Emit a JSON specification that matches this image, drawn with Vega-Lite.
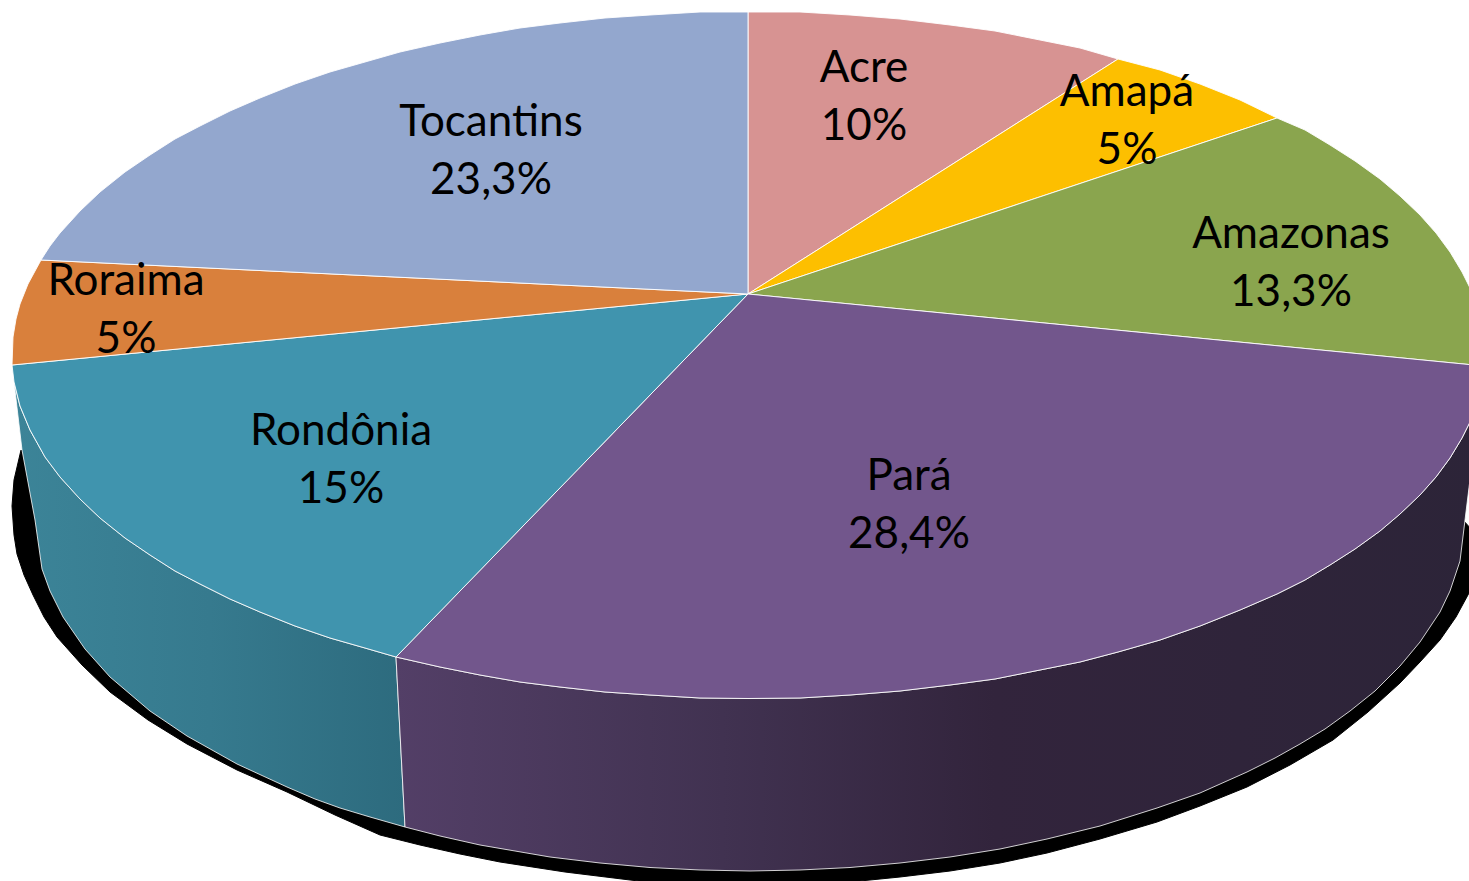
{"$schema":"https://vega.github.io/schema/vega-lite/v6.json","width":1469,"height":881,"padding":0,"autosize":{"type":"none"},"background":"white","config":{"view":{"stroke":null}},
"datasets":{
"shadow":[{"i":0,"x":21,"y":450},{"i":1,"x":14,"y":480},{"i":2,"x":12,"y":506},{"i":3,"x":14,"y":535},{"i":4,"x":17,"y":554},{"i":5,"x":24,"y":575},{"i":6,"x":33,"y":595},{"i":7,"x":44,"y":617},{"i":8,"x":57,"y":637},{"i":9,"x":82,"y":665},{"i":10,"x":110,"y":692},{"i":11,"x":148,"y":720},{"i":12,"x":187,"y":744},{"i":13,"x":237,"y":770},{"i":14,"x":287,"y":792},{"i":15,"x":335,"y":815},{"i":16,"x":380,"y":835},{"i":17,"x":420,"y":845},{"i":18,"x":460,"y":854},{"i":19,"x":500,"y":862},{"i":20,"x":565,"y":872},{"i":21,"x":630,"y":880},{"i":22,"x":665,"y":884},{"i":23,"x":700,"y":886},{"i":24,"x":763,"y":888},{"i":25,"x":810,"y":885},{"i":26,"x":850,"y":882},{"i":27,"x":900,"y":877},{"i":28,"x":950,"y":871},{"i":29,"x":1000,"y":863},{"i":30,"x":1047,"y":853},{"i":31,"x":1100,"y":839},{"i":32,"x":1157,"y":822},{"i":33,"x":1200,"y":806},{"i":34,"x":1247,"y":787},{"i":35,"x":1290,"y":765},{"i":36,"x":1333,"y":740},{"i":37,"x":1368,"y":712},{"i":38,"x":1400,"y":683},{"i":39,"x":1420,"y":662},{"i":40,"x":1440,"y":640},{"i":41,"x":1456,"y":617},{"i":42,"x":1469,"y":593},{"i":43,"x":1490,"y":550},{"i":44,"x":1400,"y":450}],
"rondonia":[{"i":0,"x":396,"y":657},{"i":1,"x":365,"y":648},{"i":2,"x":330,"y":638},{"i":3,"x":295,"y":626},{"i":4,"x":260,"y":612},{"i":5,"x":230,"y":599},{"i":6,"x":200,"y":584},{"i":7,"x":175,"y":571},{"i":8,"x":150,"y":555},{"i":9,"x":125,"y":538},{"i":10,"x":100,"y":518},{"i":11,"x":80,"y":499},{"i":12,"x":60,"y":477},{"i":13,"x":45,"y":457},{"i":14,"x":30,"y":430},{"i":15,"x":20,"y":406},{"i":16,"x":14,"y":382},{"i":17,"x":22,"y":450},{"i":18,"x":35,"y":520},{"i":19,"x":42,"y":569},{"i":20,"x":50,"y":591},{"i":21,"x":63,"y":617},{"i":22,"x":85,"y":649},{"i":23,"x":110,"y":677},{"i":24,"x":150,"y":711},{"i":25,"x":187,"y":736},{"i":26,"x":237,"y":764},{"i":27,"x":287,"y":787},{"i":28,"x":315,"y":799},{"i":29,"x":340,"y":808},{"i":30,"x":370,"y":817},{"i":31,"x":405,"y":827},{"i":32,"x":396,"y":657}],
"para":[{"i":0,"x":396,"y":657},{"i":1,"x":440,"y":667},{"i":2,"x":480,"y":675},{"i":3,"x":520,"y":682},{"i":4,"x":560,"y":687},{"i":5,"x":605,"y":692},{"i":6,"x":650,"y":695},{"i":7,"x":700,"y":698},{"i":8,"x":748,"y":698.5},{"i":9,"x":800,"y":698},{"i":10,"x":850,"y":695},{"i":11,"x":900,"y":691},{"i":12,"x":950,"y":685},{"i":13,"x":995,"y":679},{"i":14,"x":1040,"y":670},{"i":15,"x":1080,"y":662},{"i":16,"x":1118,"y":652},{"i":17,"x":1160,"y":640},{"i":18,"x":1200,"y":626},{"i":19,"x":1240,"y":610},{"i":20,"x":1277,"y":594},{"i":21,"x":1305,"y":580},{"i":22,"x":1330,"y":565},{"i":23,"x":1355,"y":549},{"i":24,"x":1380,"y":531},{"i":25,"x":1400,"y":514},{"i":26,"x":1420,"y":495},{"i":27,"x":1436,"y":477},{"i":28,"x":1450,"y":458},{"i":29,"x":1462,"y":438},{"i":30,"x":1470,"y":422},{"i":31,"x":1478,"y":399},{"i":32,"x":1484,"y":366},{"i":33,"x":1465,"y":520},{"i":34,"x":1460,"y":561},{"i":35,"x":1450,"y":591},{"i":36,"x":1440,"y":612},{"i":37,"x":1420,"y":642},{"i":38,"x":1400,"y":666},{"i":39,"x":1375,"y":691},{"i":40,"x":1350,"y":711},{"i":41,"x":1325,"y":729},{"i":42,"x":1300,"y":744},{"i":43,"x":1275,"y":758},{"i":44,"x":1247,"y":772},{"i":45,"x":1200,"y":793},{"i":46,"x":1157,"y":808},{"i":47,"x":1100,"y":826},{"i":48,"x":1047,"y":839},{"i":49,"x":1000,"y":849},{"i":50,"x":950,"y":857},{"i":51,"x":900,"y":863},{"i":52,"x":850,"y":867.5},{"i":53,"x":800,"y":870},{"i":54,"x":750,"y":871},{"i":55,"x":700,"y":870},{"i":56,"x":650,"y":867.5},{"i":57,"x":600,"y":863},{"i":58,"x":550,"y":857},{"i":59,"x":515,"y":851},{"i":60,"x":480,"y":845},{"i":61,"x":440,"y":836},{"i":62,"x":405,"y":827},{"i":63,"x":396,"y":657}],
"top":[
{"s":"Acre","i":0,"x":748,"y":294},{"s":"Acre","i":1,"x":748,"y":12},{"s":"Acre","i":2,"x":800,"y":12},{"s":"Acre","i":3,"x":850,"y":15},{"s":"Acre","i":4,"x":900,"y":19},{"s":"Acre","i":5,"x":950,"y":25},{"s":"Acre","i":6,"x":995,"y":31},{"s":"Acre","i":7,"x":1040,"y":40},{"s":"Acre","i":8,"x":1080,"y":48},{"s":"Acre","i":9,"x":1118,"y":59},{"s":"Acre","i":10,"x":748,"y":294},
{"s":"Amapá","i":0,"x":748,"y":294},{"s":"Amapá","i":1,"x":1118,"y":59},{"s":"Amapá","i":2,"x":1160,"y":70},{"s":"Amapá","i":3,"x":1200,"y":84},{"s":"Amapá","i":4,"x":1240,"y":100},{"s":"Amapá","i":5,"x":1277,"y":118},{"s":"Amapá","i":6,"x":748,"y":294},
{"s":"Amazonas","i":0,"x":748,"y":294},{"s":"Amazonas","i":1,"x":1277,"y":118},{"s":"Amazonas","i":2,"x":1305,"y":130},{"s":"Amazonas","i":3,"x":1330,"y":145},{"s":"Amazonas","i":4,"x":1355,"y":161},{"s":"Amazonas","i":5,"x":1380,"y":179},{"s":"Amazonas","i":6,"x":1400,"y":196},{"s":"Amazonas","i":7,"x":1420,"y":215},{"s":"Amazonas","i":8,"x":1436,"y":233},{"s":"Amazonas","i":9,"x":1450,"y":252},{"s":"Amazonas","i":10,"x":1462,"y":272},{"s":"Amazonas","i":11,"x":1470,"y":288},{"s":"Amazonas","i":12,"x":1478,"y":311},{"s":"Amazonas","i":13,"x":1484,"y":366},{"s":"Amazonas","i":14,"x":748,"y":294},
{"s":"Pará","i":0,"x":748,"y":294},{"s":"Pará","i":1,"x":1484,"y":366},{"s":"Pará","i":2,"x":1478,"y":399},{"s":"Pará","i":3,"x":1470,"y":422},{"s":"Pará","i":4,"x":1462,"y":438},{"s":"Pará","i":5,"x":1450,"y":458},{"s":"Pará","i":6,"x":1436,"y":477},{"s":"Pará","i":7,"x":1420,"y":495},{"s":"Pará","i":8,"x":1400,"y":514},{"s":"Pará","i":9,"x":1380,"y":531},{"s":"Pará","i":10,"x":1355,"y":549},{"s":"Pará","i":11,"x":1330,"y":565},{"s":"Pará","i":12,"x":1305,"y":580},{"s":"Pará","i":13,"x":1277,"y":594},{"s":"Pará","i":14,"x":1240,"y":610},{"s":"Pará","i":15,"x":1200,"y":626},{"s":"Pará","i":16,"x":1160,"y":640},{"s":"Pará","i":17,"x":1118,"y":652},{"s":"Pará","i":18,"x":1080,"y":662},{"s":"Pará","i":19,"x":1040,"y":670},{"s":"Pará","i":20,"x":995,"y":679},{"s":"Pará","i":21,"x":950,"y":685},{"s":"Pará","i":22,"x":900,"y":691},{"s":"Pará","i":23,"x":850,"y":695},{"s":"Pará","i":24,"x":800,"y":698},{"s":"Pará","i":25,"x":748,"y":698.5},{"s":"Pará","i":26,"x":700,"y":698},{"s":"Pará","i":27,"x":650,"y":695},{"s":"Pará","i":28,"x":605,"y":692},{"s":"Pará","i":29,"x":560,"y":687},{"s":"Pará","i":30,"x":520,"y":682},{"s":"Pará","i":31,"x":480,"y":675},{"s":"Pará","i":32,"x":440,"y":667},{"s":"Pará","i":33,"x":396,"y":657},{"s":"Pará","i":34,"x":748,"y":294},
{"s":"Rondônia","i":0,"x":748,"y":294},{"s":"Rondônia","i":1,"x":396,"y":657},{"s":"Rondônia","i":2,"x":365,"y":648},{"s":"Rondônia","i":3,"x":330,"y":638},{"s":"Rondônia","i":4,"x":295,"y":626},{"s":"Rondônia","i":5,"x":260,"y":612},{"s":"Rondônia","i":6,"x":230,"y":599},{"s":"Rondônia","i":7,"x":200,"y":584},{"s":"Rondônia","i":8,"x":175,"y":571},{"s":"Rondônia","i":9,"x":150,"y":555},{"s":"Rondônia","i":10,"x":125,"y":538},{"s":"Rondônia","i":11,"x":100,"y":518},{"s":"Rondônia","i":12,"x":80,"y":499},{"s":"Rondônia","i":13,"x":60,"y":477},{"s":"Rondônia","i":14,"x":45,"y":457},{"s":"Rondônia","i":15,"x":30,"y":430},{"s":"Rondônia","i":16,"x":20,"y":406},{"s":"Rondônia","i":17,"x":14,"y":382},{"s":"Rondônia","i":18,"x":12,"y":365},{"s":"Rondônia","i":19,"x":748,"y":294},
{"s":"Roraima","i":0,"x":748,"y":294},{"s":"Roraima","i":1,"x":12,"y":365},{"s":"Roraima","i":2,"x":13,"y":337},{"s":"Roraima","i":3,"x":16,"y":319},{"s":"Roraima","i":4,"x":20,"y":304},{"s":"Roraima","i":5,"x":28,"y":284},{"s":"Roraima","i":6,"x":41,"y":260},{"s":"Roraima","i":7,"x":748,"y":294},
{"s":"Tocantins","i":0,"x":748,"y":294},{"s":"Tocantins","i":1,"x":41,"y":260},{"s":"Tocantins","i":2,"x":50,"y":246},{"s":"Tocantins","i":3,"x":60,"y":233},{"s":"Tocantins","i":4,"x":80,"y":211},{"s":"Tocantins","i":5,"x":100,"y":192},{"s":"Tocantins","i":6,"x":125,"y":172},{"s":"Tocantins","i":7,"x":150,"y":155},{"s":"Tocantins","i":8,"x":175,"y":139},{"s":"Tocantins","i":9,"x":200,"y":126},{"s":"Tocantins","i":10,"x":230,"y":111},{"s":"Tocantins","i":11,"x":260,"y":98},{"s":"Tocantins","i":12,"x":295,"y":84},{"s":"Tocantins","i":13,"x":330,"y":72},{"s":"Tocantins","i":14,"x":365,"y":62},{"s":"Tocantins","i":15,"x":400,"y":52},{"s":"Tocantins","i":16,"x":440,"y":43},{"s":"Tocantins","i":17,"x":480,"y":35},{"s":"Tocantins","i":18,"x":520,"y":28},{"s":"Tocantins","i":19,"x":560,"y":23},{"s":"Tocantins","i":20,"x":605,"y":18},{"s":"Tocantins","i":21,"x":650,"y":15},{"s":"Tocantins","i":22,"x":700,"y":12},{"s":"Tocantins","i":23,"x":748,"y":12},{"s":"Tocantins","i":24,"x":748,"y":294}],
"labels":[{"t":"Acre\n10%","x":864,"y":69},{"t":"Amapá\n5%","x":1127,"y":93},{"t":"Amazonas\n13,3%","x":1291,"y":235},{"t":"Pará\n28,4%","x":909,"y":477},{"t":"Rondônia\n15%","x":341,"y":432},{"t":"Roraima\n5%","x":126,"y":282},{"t":"Tocantins\n23,3%","x":491,"y":123}]
},
"encoding":{
"x":{"field":"x","type":"quantitative","axis":null,"scale":{"domain":[0,1469],"nice":false,"zero":false}},
"y":{"field":"y","type":"quantitative","axis":null,"scale":{"domain":[881,0],"nice":false,"zero":false}}
},
"layer":[
{"data":{"name":"shadow"},"mark":{"type":"line","fill":"#000000","stroke":"#000000","strokeWidth":1,"clip":true},"encoding":{"order":{"field":"i","type":"quantitative"}}},
{"data":{"name":"rondonia"},"mark":{"type":"line","stroke":"#ffffff","strokeWidth":1,"strokeOpacity":0.8,"clip":true,"fill":{"gradient":"linear","x1":0,"y1":0,"x2":1,"y2":0,"stops":[{"offset":0,"color":"#3c8498"},{"offset":0.5,"color":"#367a8e"},{"offset":1,"color":"#2d6b7e"}]}},"encoding":{"order":{"field":"i","type":"quantitative"}}},
{"data":{"name":"para"},"mark":{"type":"line","stroke":"#ffffff","strokeWidth":1,"strokeOpacity":0.8,"clip":true,"fill":{"gradient":"linear","x1":0,"y1":0,"x2":1,"y2":0,"stops":[{"offset":0,"color":"#533f67"},{"offset":0.3,"color":"#413251"},{"offset":0.55,"color":"#32243c"},{"offset":1,"color":"#2c2438"}]}},"encoding":{"order":{"field":"i","type":"quantitative"}}},
{"data":{"name":"top"},"mark":{"type":"line","stroke":"#ffffff","strokeWidth":1,"strokeOpacity":0.9,"clip":true},"encoding":{"order":{"field":"i","type":"quantitative"},"fill":{"field":"s","type":"nominal","legend":null,"scale":{"domain":["Acre","Amapá","Amazonas","Pará","Rondônia","Roraima","Tocantins"],"range":["#D79392","#FDBF00","#8AA54E","#72568C","#4094AE","#D9803C","#93A7CE"]}}}},
{"data":{"name":"labels"},"mark":{"type":"text","font":"Lato","fontSize":44,"fill":"#000000","align":"center","baseline":"middle","lineBreak":"\n","lineHeight":58},"encoding":{"text":{"field":"t","type":"nominal"}}}
]}
